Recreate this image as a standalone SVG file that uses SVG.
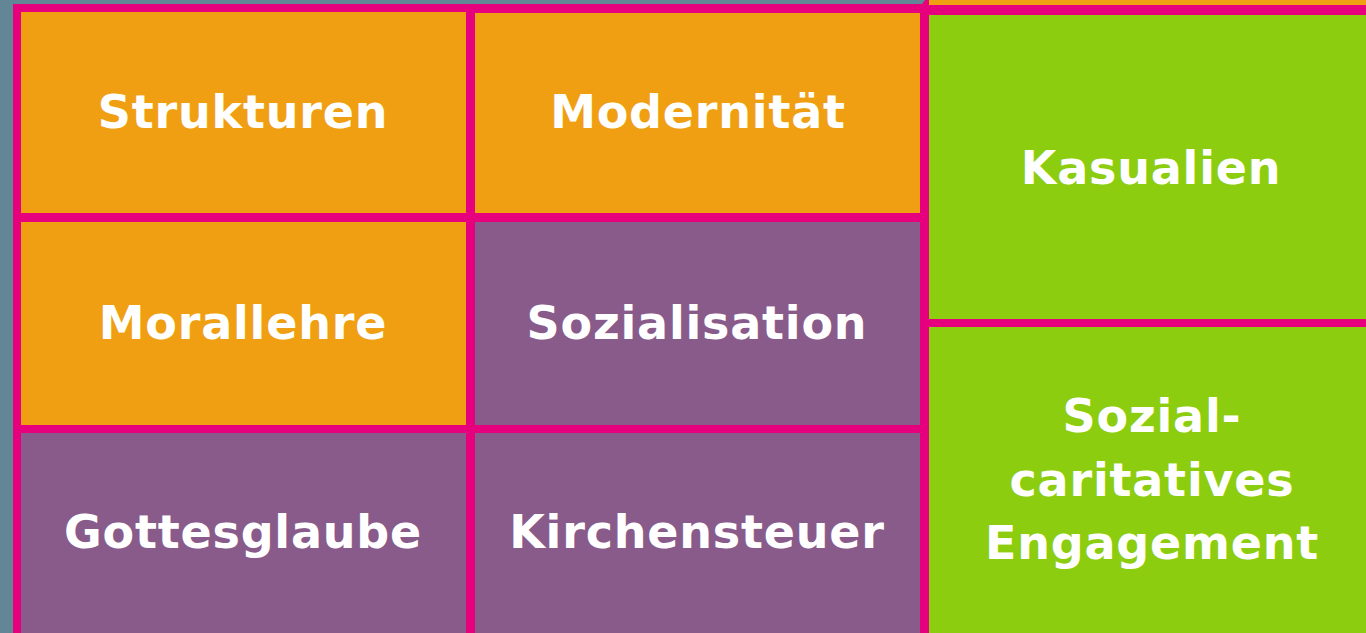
<svg xmlns="http://www.w3.org/2000/svg" width="1366" height="633" viewBox="0 0 1366 633">
<style>
.o{fill:#F09F12}
.p{fill:#895B8B}
.g{fill:#8CCD10}
text{font-family:"DejaVu Sans","Verdana",sans-serif;font-weight:bold;font-size:46px;letter-spacing:0.8px;fill:#FFFFFF;text-anchor:middle}
</style>
<rect x="0" y="0" width="1366" height="633" fill="#638696"/>
<polygon points="13,4 922,4 925,0 1366,0 1366,633 13,633" fill="#E6007E"/>
<rect class="o" x="929" y="0" width="437" height="5"/>
<g id="strukturen"><rect class="o" x="21" y="12" width="445" height="201"/><text x="243" y="128">Strukturen</text></g>
<g id="modernitaet"><rect class="o" x="475" y="13" width="445" height="200"/><text x="698" y="128">Modernität</text></g>
<g id="kasualien"><rect class="g" x="929" y="15" width="437" height="304"/><text x="1151" y="184">Kasualien</text></g>
<g id="morallehre"><rect class="o" x="21" y="222" width="445" height="203"/><text x="243" y="339">Morallehre</text></g>
<g id="sozialisation"><rect class="p" x="475" y="222" width="445" height="203"/><text x="697" y="339">Sozialisation</text></g>
<g id="gottesglaube"><rect class="p" x="21" y="433" width="445" height="200"/><text x="243" y="548">Gottesglaube</text></g>
<g id="kirchensteuer"><rect class="p" x="475" y="433" width="445" height="200"/><text x="697" y="548">Kirchensteuer</text></g>
<g id="sozial"><rect class="g" x="929" y="327" width="437" height="306"/><text x="1152" y="432">Sozial-</text><text x="1152" y="496">caritatives</text><text x="1152" y="559">Engagement</text></g>
<g id="connectors"/>
</svg>
